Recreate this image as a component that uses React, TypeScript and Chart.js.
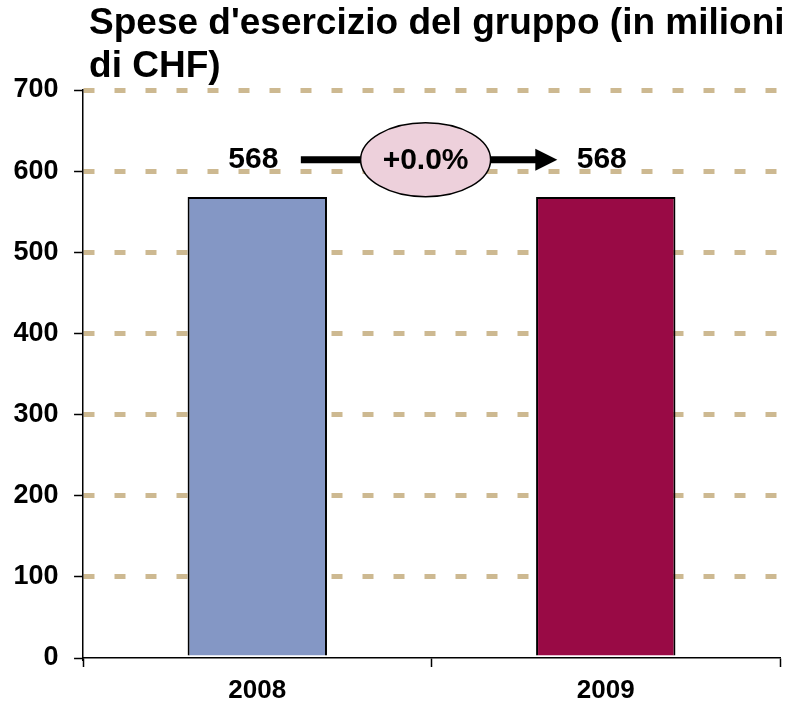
import React, { useEffect, useRef } from "react";
import { Chart, registerables } from "chart.js";

Chart.register(...registerables);

const TITLE_LINES = ["Spese d'esercizio del gruppo (in milioni", "di CHF)"];
const CATEGORIES = ["2008", "2009"];
const VALUES = [568, 568];
const BAR_COLORS = ["#8497C5", "#990A45"];
const CHANGE_LABEL = "+0.0%";
const Y_MIN = 0;
const Y_MAX = 700;
const Y_STEP = 100;
// annotation positions in data units
const ANNOT_LEVEL = 614;
const ARROW_FROM = 0.125;
const ARROW_TO = 0.861;
const BUBBLE_AT = 0.483;

const FONT = "'Liberation Sans', Arial, sans-serif";
const GRID_COLOR = "#CDB991";

const annotPlugin = {
  id: "annot",
  afterDatasetsDraw(chart: any) {
    const { ctx } = chart;
    const xs = chart.scales.x;
    const ys = chart.scales.y;
    const meta = chart.getDatasetMeta(0);
    const yLevel = ys.getPixelForValue(ANNOT_LEVEL);
    ctx.save();
    // value labels
    ctx.fillStyle = "#000";
    ctx.font = `bold 30px ${FONT}`;
    ctx.textAlign = "center";
    ctx.textBaseline = "middle";
    meta.data.forEach((el: any, i: number) => {
      ctx.fillText(String(VALUES[i]), el.x - 4, yLevel);
    });
    // arrow
    const x1 = xs.getPixelForValue(ARROW_FROM);
    const x2 = xs.getPixelForValue(ARROW_TO);
    ctx.strokeStyle = "#000";
    ctx.lineWidth = 7;
    ctx.beginPath();
    ctx.moveTo(x1, yLevel);
    ctx.lineTo(x2 - 18, yLevel);
    ctx.stroke();
    ctx.beginPath();
    ctx.moveTo(x2, yLevel);
    ctx.lineTo(x2 - 22, yLevel - 11);
    ctx.lineTo(x2 - 22, yLevel + 11);
    ctx.closePath();
    ctx.fillStyle = "#000";
    ctx.fill();
    // bubble
    const bx = xs.getPixelForValue(BUBBLE_AT);
    ctx.beginPath();
    ctx.ellipse(bx, yLevel, 65, 37, 0, 0, Math.PI * 2);
    ctx.fillStyle = "#EDD0DB";
    ctx.fill();
    ctx.lineWidth = 1.5;
    ctx.strokeStyle = "#000";
    ctx.stroke();
    ctx.fillStyle = "#000";
    ctx.font = `bold 30px ${FONT}`;
    ctx.fillText(CHANGE_LABEL, bx, yLevel + 1);
    ctx.restore();
  },
  afterDraw(chart: any) {
    const { ctx, chartArea } = chart;
    ctx.save();
    ctx.fillStyle = "#000";
    ctx.font = `bold 37px ${FONT}`;
    ctx.textAlign = "left";
    ctx.textBaseline = "alphabetic";
    ctx.fillText(TITLE_LINES[0], chartArea.left + 6, 34);
    ctx.fillText(TITLE_LINES[1], chartArea.left + 6, 77);
    ctx.restore();
  },
};

export default function App() {
  const ref = useRef<HTMLCanvasElement>(null);
  useEffect(() => {
    if (!ref.current) return;
    const chart = new Chart(ref.current, {
      type: "bar",
      data: {
        labels: CATEGORIES,
        datasets: [
          {
            data: VALUES,
            backgroundColor: BAR_COLORS,
            borderColor: "#000",
            borderWidth: 2,
            barPercentage: 0.4,
            categoryPercentage: 1,
          },
        ],
      },
      options: {
        responsive: false,
        animation: false,
        layout: { padding: { top: 90, left: -2, right: 9, bottom: -11 } },
        plugins: {
          legend: { display: false },
          tooltip: { enabled: false },
          title: { display: false },
        },
        scales: {
          x: {
            offset: true,
            grid: {
              offset: true,
              drawOnChartArea: false,
              drawTicks: true,
              tickLength: 9,
              tickColor: "#000",
              tickWidth: 1.5,
              color: "#000",
            },
            border: { color: "#000", width: 1.5 },
            ticks: {
              color: "#000",
              padding: 11,
              font: { family: FONT, size: 26, weight: "bold", lineHeight: 1 },
            },
          },
          y: {
            min: Y_MIN,
            max: Y_MAX,
            grid: {
              color: (c: any) =>
                c.tick && c.tick.value === 0 ? "rgba(0,0,0,0)" : GRID_COLOR,
              lineWidth: 5,
              drawTicks: true,
              tickLength: 9,
              tickColor: "#000",
              tickWidth: 1.5,
            },
            border: { color: "#000", width: 1.5, dash: [11, 20] },
            ticks: {
              stepSize: Y_STEP,
              color: "#000",
              padding: 15.5,
              font: { family: FONT, size: 27, weight: "bold" },
            },
          },
        },
      },
      plugins: [annotPlugin],
    });
    return () => chart.destroy();
  }, []);
  return (
    <div style={{ position: "absolute", left: 0, top: 0, width: 789, height: 704, background: "#fff" }}>
      <canvas ref={ref} width={789} height={704} />
    </div>
  );
}
